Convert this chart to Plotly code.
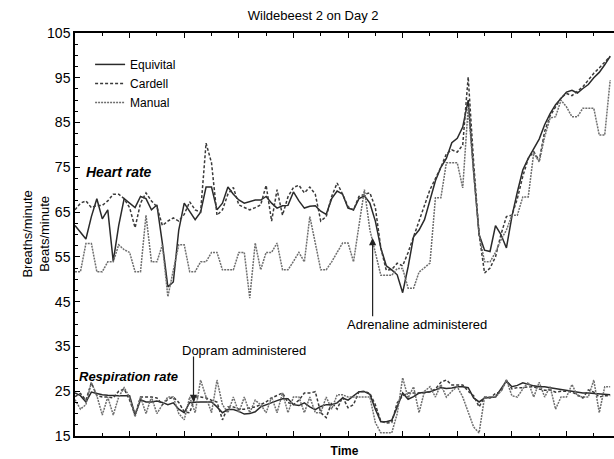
import plotly.graph_objects as go

# sample index along the time axis
time_idx = list(range(99))

heart_equivital = [62, 60.5, 59, 64, 68, 63.5, 65.5, 54, 62, 68,
                   67, 66, 68.5, 68, 65.5, 66.6, 58, 48.3, 49.4, 61,
                   67, 65, 63.3, 65, 70.6, 70.6, 65.5, 67, 70.6, 69,
                   67.7, 67, 67.4, 67.7, 67.7, 68.5, 67, 65.9, 66.4, 66.5,
                   69.5, 67.5, 65.9, 66.3, 66.4, 65.2, 64.5, 68, 69.7, 69,
                   65.9, 65.5, 68, 68.6, 67, 63, 57, 53, 52.1, 51,
                   47, 52.8, 59.5, 61, 63.3, 67.5, 72, 75, 77, 80.5,
                   81.5, 84, 90, 74, 60, 56.5, 56.2, 62, 60, 57,
                   64, 69.5, 74.4, 77, 79, 81.3, 84.5, 87, 89, 90.5,
                   91.8, 92.2, 91.6, 92.6, 93.5, 95, 96.2, 97.9, 99.8]

heart_cardell = [65.5, 67, 67.5, 66, 66.5, 66.5, 67.5, 69, 69, 68,
                 66, 61.5, 67, 69.3, 67.5, 66.2, 62, 63, 63.7, 63,
                 64.5, 67.3, 65.5, 65, 80.4, 76, 64.3, 65.5, 69, 70.5,
                 66.6, 66, 65.5, 66, 66.6, 71, 63, 70, 64.3, 68.4,
                 70.5, 71, 69.3, 70.6, 69, 63, 64, 68.5, 71.5, 69,
                 66.2, 65.5, 68.5, 69, 69.3, 66, 57, 52, 52.2, 53.6,
                 53, 56, 59.5, 63, 66.5, 70, 72.5, 75, 78, 78.9,
                 78.4, 80, 95.2, 76, 60, 51.4, 52.5, 55, 60, 64,
                 64.3, 68, 73, 77, 78.5, 76.5, 83, 86.5, 88.5, 90.5,
                 91.5, 91, 92, 93, 94.5, 96, 97.2, 98.5, 99.8]

heart_manual = [51.7, 51.7, 58, 58, 51.7, 51.7, 53.9, 53.9, 57.7, 56.6,
                56, 51.7, 51.7, 64.3, 53.9, 53.9, 57.7, 46.1, 52, 57.7,
                57.7, 51.7, 51.7, 53.9, 53.9, 56, 56, 52.1, 52.1, 52.1,
                56, 56, 45.8, 58.1, 52.1, 56, 56, 58.1, 52.1, 52.1,
                54, 56, 53.9, 64, 58.1, 52.1, 52.1, 53.9, 56, 58.1,
                58.1, 53.9, 62, 70, 61, 56, 50.9, 50.9, 50.9, 52.4,
                52.4, 48, 48, 51.6, 52.5, 53.6, 68.2, 68.2, 76, 76,
                76, 70.4, 88.5, 73.8, 60, 53.9, 53.9, 56, 58.8, 61,
                64.3, 64.3, 68.4, 68.4, 78.2, 76.2, 81.8, 86, 86.3, 90,
                88.5, 86.3, 86.3, 88.2, 88.2, 88.2, 82.2, 82.2, 94.5]

resp_equivital = [24.6, 24, 22.6, 24.8, 24.5, 24.2, 24.1, 24, 24, 24,
                  24, 19.7, 23.1, 22.6, 22.6, 22.8, 22.5, 22, 22.4, 21,
                  20.2, 22.5, 22.6, 22.6, 22.6, 22.6, 21.5, 20.2, 20.9, 20.9,
                  20.5, 19.9, 20, 20.4, 21.5, 22, 22.5, 22.9, 23.3, 23.3,
                  22, 21.8, 22.4, 21.5, 20.9, 21.6, 22, 22, 22.4, 23.5,
                  23, 24, 24.9, 24.9, 24.3, 21, 18.2, 18.2, 18.5, 21.5,
                  24.6, 23.2, 23.8, 24.6, 24.7, 24.9, 25.3, 25.8, 25.6, 25.7,
                  26, 26, 25.8, 23.5, 22.6, 23.5, 23.6, 23.7, 25.5, 27.3,
                  26, 26.3, 26.9, 26.5, 26.2, 26, 26, 25.8, 25.6, 25.4,
                  25.2, 25, 24.7, 24.6, 24.6, 24.5, 24.4, 24.3, 24.2]

resp_cardell = [23.8, 24.5, 23, 26.9, 24, 23.7, 23.7, 23.5, 25, 25.5,
                23, 19.7, 23.7, 23.7, 23.7, 23.5, 22, 23.2, 23.7, 22.5,
                20.4, 20.2, 23.7, 23.7, 23.5, 23, 22.6, 18.6, 21.5, 21.5,
                21, 21, 21.3, 21.5, 22, 22.6, 23.5, 24, 24.6, 22.5,
                22, 23, 24.6, 24.6, 24.9, 20.2, 19.1, 22.5, 21, 23.7,
                21.3, 22, 24.9, 25, 24.5, 22, 18.3, 17.9, 18, 22.4,
                24, 24.6, 24.6, 24.6, 24.6, 24.9, 25.5, 27, 27.5, 26.4,
                26.4, 26.4, 25, 24, 21.5, 23.7, 23.5, 24.5, 24.9, 27.5,
                25.5, 25.8, 25.8, 26, 26, 25.5, 25.2, 25.3, 24.8, 25,
                25, 24.8, 24.2, 23.5, 25.3, 24.8, 23.7, 24, 24]

resp_manual = [23.1, 21, 22, 27, 24, 19.7, 23.7, 19.7, 23.7, 25.8,
               23.7, 19.3, 23.7, 20, 23.7, 20, 22, 23.7, 23.7, 20,
               18.6, 23.7, 20.2, 27.5, 23.7, 20.2, 27.5, 22, 20.2, 23.7,
               20.2, 23.7, 20.2, 23, 22, 20.2, 23.7, 20.2, 24.6, 20.2,
               23.7, 23.7, 20.2, 23.7, 20.2, 20.2, 23.7, 21, 24.2, 24.2,
               23.7, 23.7, 23.7, 23.7, 23.7, 18, 15.7, 15.7, 15.7, 20,
               28, 23.5, 26, 20.2, 25, 26, 23.7, 26.5, 23.7, 25,
               26, 23.7, 20.5, 17, 15.7, 23.7, 23.7, 23.7, 25, 27.5,
               24, 23.7, 25.5, 27, 23.7, 27, 23.7, 26, 21, 23.7,
               23.7, 26.5, 24, 23.7, 23.7, 27.5, 20.2, 26, 26]

y_ticks = [15, 25, 35, 45, 55, 65, 75, 85, 95, 105]
x_ticks = [10, 20, 30, 40, 50, 60, 70, 80, 90]

FONT = "Liberation Sans, Arial, sans-serif"

styles = {
    "Equivital": dict(color="#2a2a2a", width=1.5, dash="solid"),
    "Cardell": dict(color="#3a3a3a", width=1.5, dash="3px,2px"),
    "Manual": dict(color="#6e6e6e", width=1.5, dash="2px,1px"),
}

fig = go.Figure()
for name, h, r in [("Equivital", heart_equivital, resp_equivital),
                   ("Cardell", heart_cardell, resp_cardell),
                   ("Manual", heart_manual, resp_manual)]:
    fig.add_trace(go.Scatter(x=time_idx, y=h, mode="lines", name=name,
                             line=styles[name], legendgroup=name))
    fig.add_trace(go.Scatter(x=time_idx, y=r, mode="lines", name=name,
                             line=styles[name], legendgroup=name,
                             showlegend=False))

fig.update_layout(
    width=614, height=459,
    margin=dict(l=75, r=0, t=33, b=23, autoexpand=False),
    paper_bgcolor="white", plot_bgcolor="white",
    font=dict(family=FONT, size=12, color="black"),
    title=dict(text="Wildebeest 2 on Day 2", x=0.51, xanchor="center",
               y=0.967, yanchor="middle", font=dict(size=13)),
    showlegend=True,
    legend=dict(x=0.028, y=0.958, xanchor="left", yanchor="top",
                bgcolor="rgba(0,0,0,0)", font=dict(size=12),
                itemwidth=30, tracegroupgap=0),
)

fig.update_xaxes(
    range=[0, 98.7], tickvals=x_ticks, showticklabels=False,
    ticks="inside", ticklen=5, tickcolor="black", tickwidth=1,
    minor=dict(dtick=5, tick0=0, ticks="inside", ticklen=3, tickcolor="black"),
    showline=True, linecolor="black", linewidth=1.5, mirror="allticks",
    showgrid=False, zeroline=False,
    title=dict(text="<b>Time</b>", font=dict(size=12), standoff=10),
)
fig.update_yaxes(
    range=[15, 105], tickvals=y_ticks, ticktext=[str(v) for v in y_ticks],
    ticks="inside", ticklen=5, tickcolor="black", tickwidth=1,
    minor=dict(dtick=2.5, tick0=15, ticks="inside", ticklen=3, tickcolor="black"),
    showline=True, linecolor="black", linewidth=1.5, mirror=False,
    showgrid=False, zeroline=False,
    tickfont=dict(size=14),
)

# y-axis title (two lines, rotated)
fig.add_annotation(xref="paper", yref="paper", x=-0.074, y=0.5,
                   xanchor="center", yanchor="middle",
                   text="Breaths/minute<br>Beats/minute", textangle=-90,
                   showarrow=False, font=dict(size=13))

# text labels
fig.add_annotation(x=1.6, y=73.9, text="<b><i>Heart rate</i></b>", showarrow=False,
                   xanchor="left", font=dict(size=14))
fig.add_annotation(x=0.3, y=28.3, text="<b><i>Respiration rate</i></b>", showarrow=False,
                   xanchor="left", font=dict(size=13))
fig.add_annotation(x=19.3, y=34.0, text="Dopram administered", showarrow=False,
                   xanchor="left", font=dict(size=13))
fig.add_annotation(x=49.5, y=39.9, text="Adrenaline administered", showarrow=False,
                   xanchor="left", font=dict(size=13))

# arrows
fig.add_annotation(x=21.7, y=22.6, ax=21.7, ay=33.1, axref="x", ayref="y",
                   text="", showarrow=True, arrowhead=2, arrowsize=1.2,
                   arrowwidth=1.2, arrowcolor="#222")
fig.add_annotation(x=54.5, y=59.2, ax=54.5, ay=41.4, axref="x", ayref="y",
                   text="", showarrow=True, arrowhead=2, arrowsize=1.2,
                   arrowwidth=1.2, arrowcolor="#222")

fig.write_html(
    "out.html",
    config={"displayModeBar": False},
    post_script="document.body.style.margin='0px';document.body.style.overflow='hidden';",
)
